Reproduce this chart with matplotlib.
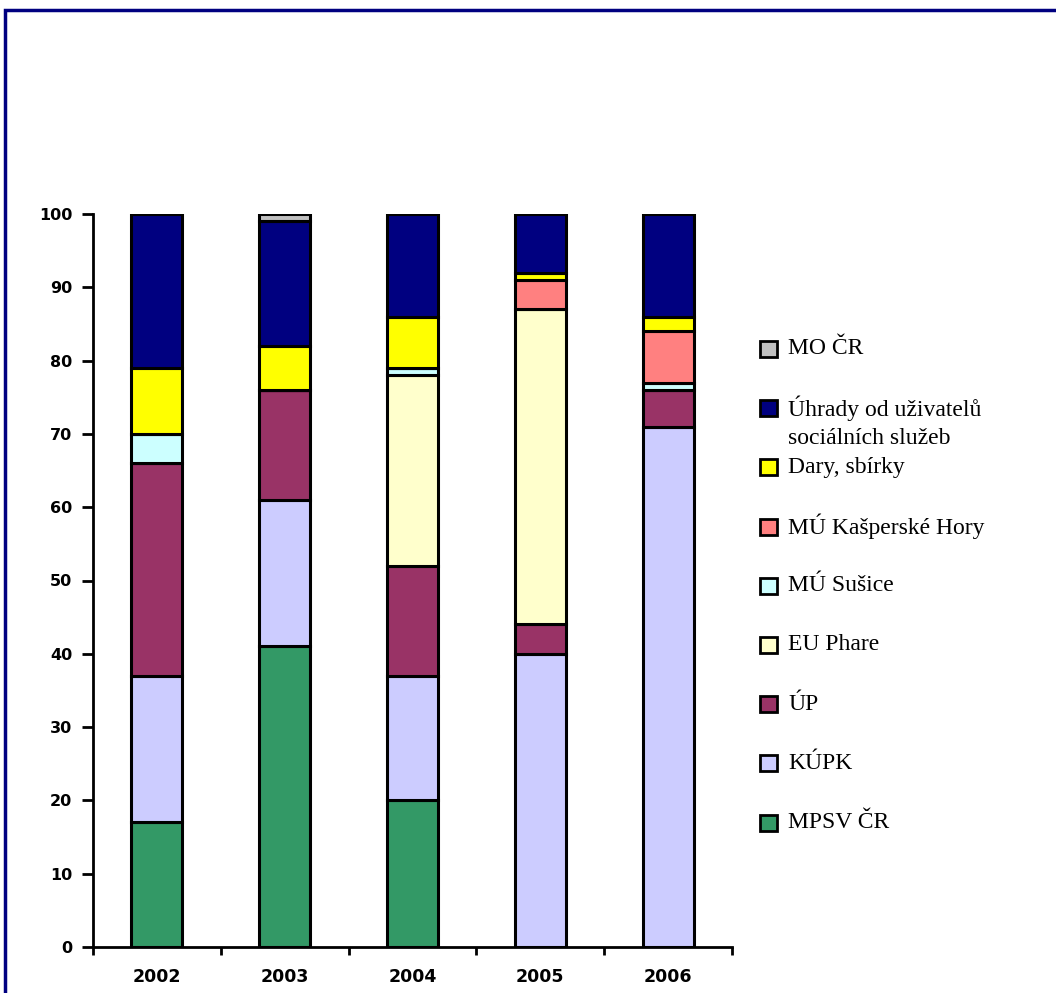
import matplotlib.pyplot as plt
from matplotlib.patches import Rectangle
import numpy as np

years = ['2002', '2003', '2004', '2005', '2006']

# share of each source, bottom to top
series = ['MPSV ČR', 'KÚPK', 'ÚP', 'EU Phare', 'MÚ Sušice', 'MÚ Kašperské Hory',
          'Dary, sbírky', 'Úhrady od uživatelů\nsociálních služeb', 'MO ČR']
mpsv = [17, 41, 20, 0, 0]
kupk = [20, 20, 17, 40, 71]
up = [29, 15, 15, 4, 5]
phare = [0, 0, 26, 43, 0]
susice = [4, 0, 1, 0, 1]
kasperske = [0, 0, 0, 4, 7]
dary = [9, 6, 7, 1, 2]
uhrady = [21, 17, 14, 8, 14]
mo = [0, 1, 0, 0, 0]

colors = ['#339966', '#CCCCFF', '#993366', '#FFFFCC', '#CCFFFF', '#FF8080',
          '#FFFF00', '#000080', '#C0C0C0']

values = [mpsv, kupk, up, phare, susice, kasperske, dary, uhrady, mo]

W, H = 1056, 993
fig = plt.figure(figsize=(W / 100, H / 100), dpi=100)
ax = fig.add_axes([93 / W, 1 - 947 / H, (732 - 93) / W, (947 - 214) / H])

x = np.arange(len(years))
bottom = np.zeros(len(years))
for vals, col in zip(values, colors):
	vals = np.array(vals, dtype=float)
	ax.bar(x, vals, 0.4, bottom=bottom, color=col, edgecolor='black', linewidth=2.2)
	bottom += vals

ax.set_xlim(-0.5, 4.5)
ax.set_ylim(0, 100)
ax.set_yticks(range(0, 101, 10))
ax.set_xticks(x)
ax.set_xticklabels(years)
ax.set_xticks(np.arange(-0.5, 5, 1), minor=True)
ax.tick_params(axis='x', which='major', length=0, pad=15)
ax.tick_params(axis='x', which='minor', length=6, width=2, direction='out')
ax.tick_params(axis='y', length=8, width=2, direction='out', pad=7)
for lab in ax.get_xticklabels() + ax.get_yticklabels():
	lab.set_fontfamily('DejaVu Sans')
	lab.set_fontweight('bold')
for lab in ax.get_yticklabels():
	lab.set_fontsize(11.5)
for lab in ax.get_xticklabels():
	lab.set_fontsize(12.5)
for s in ['top', 'right']:
	ax.spines[s].set_visible(False)
for s in ['left', 'bottom']:
	ax.spines[s].set_linewidth(2)

# legend, drawn by hand to keep Excel-like slots
y0, step = 349, 59.2
for i, (name, col) in enumerate(zip(series[::-1], colors[::-1])):
	yc = y0 + i * step
	fig.patches.append(Rectangle((760 / W, 1 - (yc + 8) / H), 17 / W, 16 / H,
	                             transform=fig.transFigure, facecolor=col,
	                             edgecolor='black', linewidth=2))
	for j, line in enumerate(name.split('\n')):
		fig.text(788 / W, 1 - (yc + j * 30) / H, line, fontsize=17,
		         family='Liberation Serif', va='center', ha='left')

# outer frame
fig.patches.append(Rectangle((5 / W, -0.1), 1.2, 1.1 - 10 / H, transform=fig.transFigure,
                             facecolor='none', edgecolor='#000080', linewidth=2.5))

fig.savefig('out.png', dpi=100)
